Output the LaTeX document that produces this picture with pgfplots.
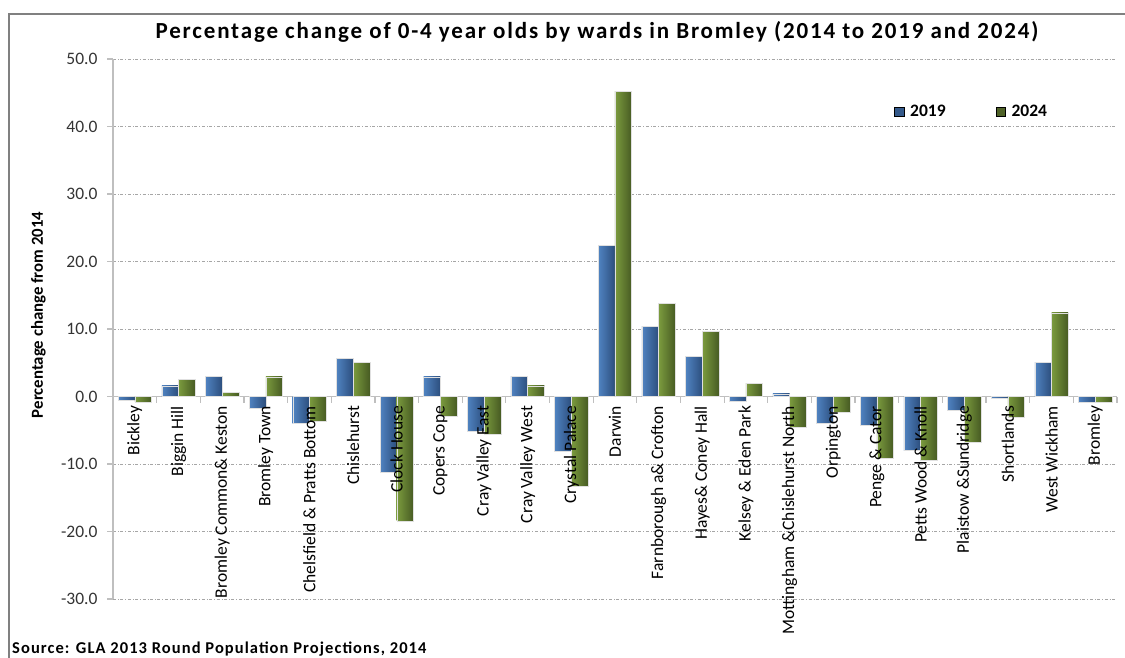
\documentclass[border=0pt]{standalone}
\usepackage{pgfplots}
\usepackage{pgfplotstable}
\pgfplotsset{compat=1.18}
\usepackage{fontspec}
\setmainfont{Carlito}
\newfontfamily\widetitle[LetterSpace=8]{Carlito}
\newfontfamily\widetitleb[LetterSpace=6.5]{Carlito}

\definecolor{bL}{HTML}{5083C1}
\definecolor{bM}{HTML}{4779B6}
\definecolor{bR}{HTML}{2C4E7D}
\definecolor{gL}{HTML}{7B9B3E}
\definecolor{gM}{HTML}{718F37}
\definecolor{gR}{HTML}{475B23}
\definecolor{legb}{HTML}{34598A}
\definecolor{legg}{HTML}{4F6228}
\definecolor{axgray}{HTML}{BFBFBF}
\definecolor{gridgray}{HTML}{A6A6A6}

\pgfplotstableread{
x y19 y24
0 -0.5 -0.8
1 1.6 2.5
2 3.0 0.6
3 -1.7 2.9
4 -4.0 -3.7
5 5.7 5.1
6 -11.2 -18.4
7 2.9 -2.9
8 -5.1 -5.6
9 3.0 1.6
10 -8.1 -13.3
11 22.4 45.2
12 10.4 13.8
13 6.0 9.7
14 -0.7 2.0
15 0.4 -4.5
16 -3.9 -2.3
17 -4.3 -9.2
18 -8.0 -9.5
19 -2.0 -6.8
20 -0.2 -3.0
21 5.1 12.4
22 -0.8 -0.8
}\data

\begin{document}
\begin{tikzpicture}[x=1pt,y=1pt]
\begin{axis}[
  set layers,
  at={(113pt,58pt)}, anchor=south west,
  scale only axis, width=1004pt, height=540pt,
  xmin=-0.5, xmax=22.5, ymin=-30, ymax=50,
  axis x line*=middle, axis y line*=left,
  axis line style={axgray, line width=1.2pt},
  ytick={-30,-20,...,50},
  xtick={0,...,22},
  minor xtick={-0.5,0.5,...,22.5},
  major x tick style={draw=none},
  minor x tick style={axgray, line width=1.2pt},
  major y tick style={axgray, line width=1.2pt},
  tick align=outside,
  major tick length=6pt, minor tick length=6pt,
  ymajorgrids,
  grid style={gridgray, dash dot, line width=0.8pt},
  yticklabel style={/pgf/number format/fixed, /pgf/number format/fixed zerofill, /pgf/number format/precision=1,
    font=\fontsize{17.5}{20}\selectfont, text=black!80, xshift=-6pt},
  /pgf/number format/assume math mode=true,
  xticklabels={Bickley, Biggin Hill, {Bromley Common\& Keston}, Bromley Town,
    {Chelsfield \& Pratts Bottom}, Chislehurst, Clock House, Copers Cope,
    Cray Valley East, Cray Valley West, Crystal Palace, Darwin,
    {Farnborough a\& Crofton}, {Hayes\& Coney Hall}, {Kelsey \& Eden Park},
    {Mottingham \&Chislehurst North}, Orpington, {Penge \& Cator},
    {Petts Wood \& Knoll}, {Plaistow \&Sundridge}, Shortlands, West Wickham, Bromley},
  xticklabel style={rotate=90, anchor=east, font=\fontsize{17.5}{20}\selectfont, text=black, /pgfplots/on layer=axis foreground},
  ybar, bar width=16.7pt,
  legend image code/.code={\fill[#1] (0pt,-4.5pt) rectangle (9.5pt,5pt);},
  legend style={at={(0.778,0.902)}, anchor=west, draw=none, fill=none, inner sep=0pt,
    font=\bfseries\fontsize{17.5}{20}\selectfont,
    /tikz/every odd column/.append style={column sep=4pt},
    /tikz/every even column/.append style={column sep=48pt}},
  legend columns=2,
]
\pgfplotsinvokeforeach{0,...,22}{
\pgfplotstablegetelem{#1}{y19}\of\data \let\va\pgfplotsretval
\pgfplotstablegetelem{#1}{y24}\of\data \let\vb\pgfplotsretval
\addplot[forget plot, bar shift=-8.35pt, draw=black!12, line width=0.4pt, left color=bL, middle color=bM, right color=bR] coordinates {(#1,\va)};
\addplot[forget plot, bar shift=8.35pt, draw=black!12, line width=0.4pt, left color=gL, middle color=gM, right color=gR] coordinates {(#1,\vb)};
}
\addlegendimage{fill=legb}
\addlegendentry{2019}
\addlegendimage{fill=legg}
\addlegendentry{2024}
\end{axis}
\node[font=\widetitle\bfseries\fontsize{23}{27}\selectfont, anchor=base] at (597,618) {Percentage change of 0-4 year olds by wards in Bromley (2014 to 2019 and 2024)};
\node[font=\bfseries\fontsize{16.8}{20}\selectfont, rotate=90, anchor=base] at (43,342) {Percentage change from 2014};
\node[font=\widetitleb\bfseries\fontsize{16.5}{20}\selectfont, anchor=base west, inner sep=0pt] at (12,4) {Source: GLA 2013 Round Population Projections, 2014};
\draw[black!50, line width=1.2pt] (9,-20) rectangle (1140,643);
\pgfresetboundingbox
\path (0,0) rectangle (1125,657);
\end{tikzpicture}
\end{document}
